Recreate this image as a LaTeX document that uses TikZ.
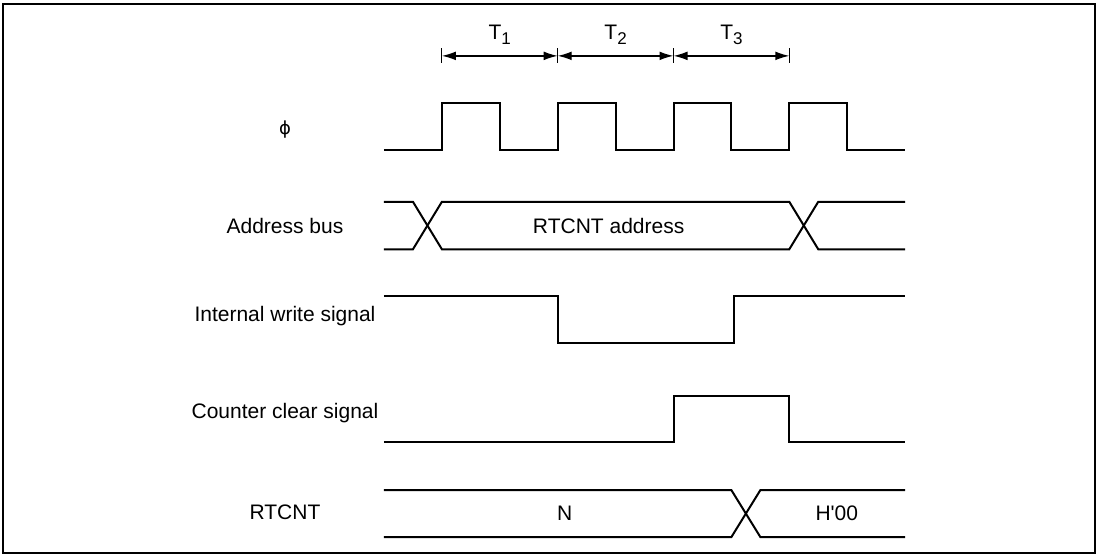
\documentclass[tikz,border=0pt]{standalone}
\usepackage{fontspec}
\setmainfont{Liberation Sans}[Ligatures=TeXOff]
\newfontfamily\phifont{DejaVu Sans}
\usetikzlibrary{arrows.meta}
\tikzset{
  wave/.style={line width=1pt, line join=miter},
  siglabel/.style={anchor=base, inner sep=0pt, font=\fontsize{10.5}{12}\selectfont},
  periodtick/.style={line width=0.6pt},
  period/.style={line width=0.7pt, {Latex[length=7pt,width=4.4pt]}-{Latex[length=7pt,width=4.4pt]}}
}
\begin{document}
\begin{tikzpicture}[x=28.95pt, y=28.95pt]
  \useasboundingbox (-6.632,0) rectangle (12.366,9.585);
  \draw[line width=1pt] (-6.58,0.04) rectangle (12.28,9.516);

  % bus cycle states
  \foreach \i in {1,3,5,7} {
    \draw[periodtick] (\i,8.5) -- (\i,8.76);
    \coordinate (m\i) at (\i,8.62);
  }
  \draw[period] (m1) -- (m3);
  \draw[period] (m3) -- (m5);
  \draw[period] (m5) -- (m7);
  \node[siglabel] (t1) at (2,8.895) {T{\fontsize{8.5}{10}\selectfont\raisebox{-2.2pt}{1}}};
  \node[siglabel] (t2) at (4,8.895) {T{\fontsize{8.5}{10}\selectfont\raisebox{-2.2pt}{2}}};
  \node[siglabel] (t3) at (6,8.895) {T{\fontsize{8.5}{10}\selectfont\raisebox{-2.2pt}{3}}};

  % phi
  \node[siglabel] (lphi) at (-1.71,7.26) {\phifont\fontsize{9}{10}\selectfont ϕ};
  \draw[wave] (0,7) \foreach \k in {1,3,5,7} {
    -- (\k,7) -- (\k,7.8) -- (\k+1,7.8) -- (\k+1,7)} -- (9,7);

  % address bus
  \node[siglabel] (laddr) at (-1.71,5.544) {Address bus};
  \draw[wave] (0,6.1) -- (0.5,6.1) -- (1,5.28) -- (7,5.28) -- (7.5,6.1) -- (9,6.1);
  \draw[wave] (0,5.28) -- (0.5,5.28) -- (1,6.1) -- (7,6.1) -- (7.5,5.28) -- (9,5.28);
  \node[siglabel] (vaddr) at (3.88,5.554) {RTCNT address};

  % internal write signal
  \node[siglabel] (lwr) at (-1.71,4.029) {Internal write signal};
  \draw[wave] (0,4.48) -- (3,4.48) -- (3,3.66) -- (6.05,3.66) -- (6.05,4.48) -- (9,4.48);

  % counter clear signal
  \node[siglabel] (lclr) at (-1.71,2.361) {Counter clear signal};
  \draw[wave] (0,1.95) -- (5,1.95) -- (5,2.74) -- (7,2.74) -- (7,1.95) -- (9,1.95);

  % RTCNT
  \node[siglabel] (lcnt) at (-1.71,0.617) {RTCNT};
  \draw[wave] (0,1.12) -- (6,1.12) -- (6.5,0.31) -- (9,0.31);
  \draw[wave] (0,0.31) -- (6,0.31) -- (6.5,1.12) -- (9,1.12);
  \node[siglabel] (vold) at (3.12,0.587) {N};
  \node[siglabel] (vnew) at (7.82,0.587) {H'00};
\end{tikzpicture}
\end{document}
